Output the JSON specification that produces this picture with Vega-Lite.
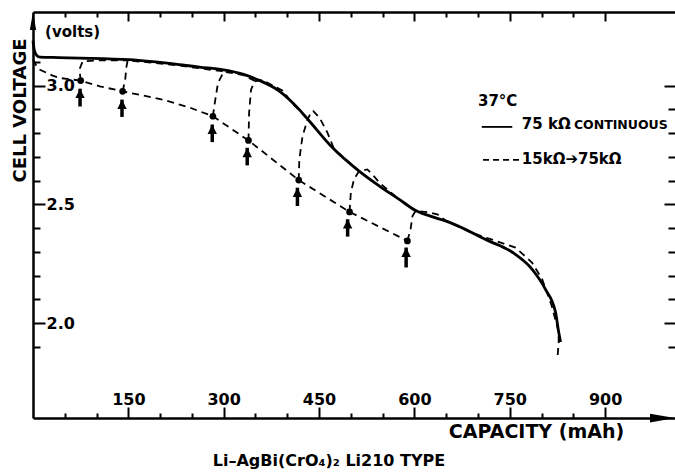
{
  "$schema": "https://vega.github.io/schema/vega-lite/v6.json",
  "width": 642,
  "height": 406,
  "autosize": {"type": "none"},
  "padding": {"left": 33, "top": 12, "right": 0, "bottom": 54},
  "background": "white",
  "config": {"view": {"stroke": null}, "font": "DejaVu Sans", "axis": {"grid": false}},
  "title": {"text": "Li–AgBi(CrO₄)₂ Li210 TYPE", "orient": "bottom", "anchor": "middle", "dx": -25, "offset": 12, "fontSize": 16, "fontWeight": "bold", "font": "DejaVu Sans", "color": "#000"},
  "resolve": {"axis": {"x": "independent", "y": "independent"}},
  "datasets": {
    "solid": [
      {"mAh": 0, "V": 3.19}, {"mAh": 2, "V": 3.15}, {"mAh": 6, "V": 3.127}, {"mAh": 11, "V": 3.12},
      {"mAh": 40, "V": 3.118}, {"mAh": 74, "V": 3.116}, {"mAh": 152, "V": 3.109}, {"mAh": 231, "V": 3.088},
      {"mAh": 262, "V": 3.078}, {"mAh": 300, "V": 3.066}, {"mAh": 330, "V": 3.048}, {"mAh": 356, "V": 3.022},
      {"mAh": 388, "V": 2.976}, {"mAh": 419, "V": 2.899}, {"mAh": 435, "V": 2.85}, {"mAh": 471, "V": 2.739},
      {"mAh": 513, "V": 2.64}, {"mAh": 545, "V": 2.577}, {"mAh": 576, "V": 2.521}, {"mAh": 602, "V": 2.474},
      {"mAh": 625, "V": 2.45}, {"mAh": 649, "V": 2.43}, {"mAh": 717, "V": 2.346}, {"mAh": 754, "V": 2.298}, {"mAh": 785, "V": 2.227},
      {"mAh": 806, "V": 2.143}, {"mAh": 822, "V": 2.046}, {"mAh": 827, "V": 1.962}, {"mAh": 830, "V": 1.92}
    ],
    "dashed": [
      {"seg": "L", "i": 0, "mAh": 0, "V": 3.11}, {"seg": "L", "i": 1, "mAh": 5, "V": 3.085}, {"seg": "L", "i": 2, "mAh": 11, "V": 3.067},
      {"seg": "L", "i": 3, "mAh": 31, "V": 3.042}, {"seg": "L", "i": 4, "mAh": 42, "V": 3.032}, {"seg": "L", "i": 5, "mAh": 75, "V": 3.021},
      {"seg": "L", "i": 6, "mAh": 105, "V": 2.997}, {"seg": "L", "i": 7, "mAh": 141, "V": 2.976}, {"seg": "L", "i": 8, "mAh": 204, "V": 2.941},
      {"seg": "L", "i": 9, "mAh": 246, "V": 2.908}, {"seg": "L", "i": 10, "mAh": 283, "V": 2.871}, {"seg": "L", "i": 11, "mAh": 339, "V": 2.769},
      {"seg": "L", "i": 12, "mAh": 377, "V": 2.689}, {"seg": "L", "i": 13, "mAh": 418, "V": 2.602}, {"seg": "L", "i": 14, "mAh": 498, "V": 2.468},
      {"seg": "L", "i": 15, "mAh": 589, "V": 2.346},
      {"seg": "B1", "i": 0, "mAh": 75, "V": 3.021}, {"seg": "B1", "i": 1, "mAh": 74, "V": 3.046}, {"seg": "B1", "i": 2, "mAh": 74, "V": 3.074},
      {"seg": "B1", "i": 3, "mAh": 78, "V": 3.102}, {"seg": "B1", "i": 4, "mAh": 99, "V": 3.106}, {"seg": "B1", "i": 5, "mAh": 149, "V": 3.106},
      {"seg": "B2", "i": 0, "mAh": 141, "V": 2.976}, {"seg": "B2", "i": 1, "mAh": 145, "V": 3.024}, {"seg": "B2", "i": 2, "mAh": 147, "V": 3.08},
      {"seg": "B2", "i": 3, "mAh": 149, "V": 3.106}, {"seg": "B2", "i": 4, "mAh": 178, "V": 3.099}, {"seg": "B2", "i": 5, "mAh": 231, "V": 3.084},
      {"seg": "B2", "i": 6, "mAh": 290, "V": 3.063}, {"seg": "B2", "i": 7, "mAh": 302, "V": 3.06},
      {"seg": "B3", "i": 0, "mAh": 283, "V": 2.871}, {"seg": "B3", "i": 1, "mAh": 286, "V": 2.927}, {"seg": "B3", "i": 2, "mAh": 291, "V": 3.011},
      {"seg": "B3", "i": 3, "mAh": 299, "V": 3.053}, {"seg": "B3", "i": 4, "mAh": 302, "V": 3.058}, {"seg": "B3", "i": 5, "mAh": 330, "V": 3.045},
      {"seg": "B3", "i": 6, "mAh": 349, "V": 3.02},
      {"seg": "B4", "i": 0, "mAh": 339, "V": 2.769}, {"seg": "B4", "i": 1, "mAh": 340, "V": 2.887}, {"seg": "B4", "i": 2, "mAh": 343, "V": 2.983},
      {"seg": "B4", "i": 3, "mAh": 349, "V": 3.018}, {"seg": "B4", "i": 4, "mAh": 360, "V": 3.024}, {"seg": "B4", "i": 5, "mAh": 393, "V": 2.979},
      {"seg": "B4", "i": 6, "mAh": 408, "V": 2.924}, {"seg": "B4", "i": 7, "mAh": 418, "V": 2.9}, {"seg": "B4", "i": 8, "mAh": 432, "V": 2.857},
      {"seg": "B5", "i": 0, "mAh": 418, "V": 2.602}, {"seg": "B5", "i": 1, "mAh": 419, "V": 2.689}, {"seg": "B5", "i": 2, "mAh": 424, "V": 2.787},
      {"seg": "B5", "i": 3, "mAh": 432, "V": 2.857}, {"seg": "B5", "i": 4, "mAh": 438, "V": 2.892}, {"seg": "B5", "i": 5, "mAh": 441, "V": 2.892},
      {"seg": "B5", "i": 6, "mAh": 451, "V": 2.864}, {"seg": "B5", "i": 7, "mAh": 463, "V": 2.803}, {"seg": "B5", "i": 8, "mAh": 474, "V": 2.731},
      {"seg": "B5", "i": 9, "mAh": 513, "V": 2.64},
      {"seg": "B6", "i": 0, "mAh": 498, "V": 2.468}, {"seg": "B6", "i": 1, "mAh": 500, "V": 2.549}, {"seg": "B6", "i": 2, "mAh": 505, "V": 2.605},
      {"seg": "B6", "i": 3, "mAh": 513, "V": 2.64}, {"seg": "B6", "i": 4, "mAh": 526, "V": 2.647}, {"seg": "B6", "i": 5, "mAh": 534, "V": 2.626},
      {"seg": "B6", "i": 6, "mAh": 545, "V": 2.591}, {"seg": "B6", "i": 7, "mAh": 576, "V": 2.521}, {"seg": "B6", "i": 8, "mAh": 602, "V": 2.472},
      {"seg": "B7", "i": 0, "mAh": 589, "V": 2.346}, {"seg": "B7", "i": 1, "mAh": 594, "V": 2.395}, {"seg": "B7", "i": 2, "mAh": 597, "V": 2.451},
      {"seg": "B7", "i": 3, "mAh": 602, "V": 2.472}, {"seg": "B7", "i": 4, "mAh": 623, "V": 2.466}, {"seg": "B7", "i": 5, "mAh": 636, "V": 2.458},
      {"seg": "B7", "i": 6, "mAh": 649, "V": 2.432}, {"seg": "B7", "i": 7, "mAh": 690, "V": 2.38}, {"seg": "B7", "i": 8, "mAh": 728, "V": 2.346},
      {"seg": "B7", "i": 9, "mAh": 759, "V": 2.318}, {"seg": "B7", "i": 10, "mAh": 785, "V": 2.255}, {"seg": "B7", "i": 11, "mAh": 801, "V": 2.185},
      {"seg": "B7", "i": 12, "mAh": 816, "V": 2.073}, {"seg": "B7", "i": 13, "mAh": 827, "V": 1.962}, {"seg": "B7", "i": 14, "mAh": 827, "V": 1.92},
      {"seg": "B7", "i": 15, "mAh": 825, "V": 1.849}
    ],
    "dots": [
      {"mAh": 75, "V": 3.021}, {"mAh": 141, "V": 2.976}, {"mAh": 283, "V": 2.871}, {"mAh": 339, "V": 2.769},
      {"mAh": 418, "V": 2.602}, {"mAh": 498, "V": 2.468}, {"mAh": 589, "V": 2.346}
    ],
    "arrows": [
      {"mAh": 74, "tip": 2.987, "tail": 2.912}, {"mAh": 140, "tip": 2.941, "tail": 2.868},
      {"mAh": 282, "tip": 2.836, "tail": 2.762}, {"mAh": 337, "tip": 2.738, "tail": 2.664},
      {"mAh": 416, "tip": 2.57, "tail": 2.493}, {"mAh": 495, "tip": 2.437, "tail": 2.364},
      {"mAh": 587, "tip": 2.318, "tail": 2.234}
    ],
    "notes": [
      {"kind": "unit", "t": "(volts)", "mAh": 19, "V": 3.226},
      {"kind": "temp", "t": "37°C", "mAh": 700, "V": 2.935},
      {"kind": "big", "t": "75 kΩ", "mAh": 769, "V": 2.817},
      {"kind": "small", "t": "CONTINUOUS", "mAh": 851, "V": 2.817},
      {"kind": "big2", "t": "15kΩ➔75kΩ", "mAh": 769, "V": 2.67}
    ],
    "samples": [
      {"kind": "solid", "x1": 706, "x2": 754, "V": 2.826},
      {"kind": "dashed", "x1": 708, "x2": 765, "V": 2.687}
    ],
    "axisHeads": [
      {"dir": "up", "mAh": 0, "V": 3.31},
      {"dir": "right", "mAh": 1010, "V": 1.6}
    ]
  },
  "layer": [
    {
      "data": {"name": "solid"},
      "mark": {"type": "line", "color": "#000", "strokeWidth": 2.8, "interpolate": "monotone"},
      "encoding": {
        "x": {"field": "mAh", "type": "quantitative", "scale": {"domain": [0, 1010], "nice": false, "zero": false},
          "axis": {"orient": "bottom", "values": [150, 300, 450, 600, 750, 900],
            "domainColor": "#000", "domainWidth": 2.5, "ticks": false, "labels": false,
            "title": "CAPACITY (mAh)", "titleX": 503, "titleY": 13, "titleAlign": "center", "titleBaseline": "middle",
            "titleFont": "DejaVu Sans", "titleFontSize": 19, "titleFontWeight": "bold", "titleColor": "#000"}},
        "y": {"field": "V", "type": "quantitative", "scale": {"domain": [1.6, 3.31], "nice": false, "zero": false},
          "axis": {"orient": "left", "values": [2, 2.5, 3],
            "domainColor": "#000", "domainWidth": 2.5, "ticks": false, "labels": false,
            "title": "CELL VOLTAGE", "titleAngle": 270, "titleX": -13, "titleY": 170, "titleAlign": "left", "titleBaseline": "middle",
            "titleFont": "DejaVu Sans", "titleFontSize": 18, "titleFontWeight": "bold", "titleColor": "#000"}}
      }
    },
    {
      "data": {"name": "dashed"},
      "mark": {"type": "line", "color": "#000", "strokeWidth": 1.8, "strokeDash": [7, 5]},
      "encoding": {
        "x": {"field": "mAh", "type": "quantitative", "scale": {"domain": [0, 1010], "nice": false, "zero": false},
          "axis": {"orient": "top", "values": [150, 300],
            "domainColor": "#000", "domainWidth": 2.5, "ticks": false, "labels": false, "title": null}},
        "y": {"field": "V", "type": "quantitative", "scale": {"domain": [1.6, 3.31], "nice": false, "zero": false},
          "axis": {"orient": "right", "values": [1.9, 2, 2.1, 2.2, 2.3, 2.4, 2.5, 2.6, 2.7, 2.8, 2.9, 3],
            "domain": false, "ticks": true, "tickColor": "#000", "tickWidth": 2,
            "tickSize": {"condition": {"test": "abs(datum.value*2 - round(datum.value*2)) < 0.001", "value": -11}, "value": -7},
            "labels": false, "title": null}},
        "detail": {"field": "seg"},
        "order": {"field": "i", "type": "quantitative"}
      }
    },
    {
      "data": {"name": "dots"},
      "mark": {"type": "point", "filled": true, "color": "#000", "opacity": 1, "size": 45},
      "encoding": {
        "x": {"field": "mAh", "type": "quantitative", "scale": {"domain": [0, 1010]},
          "axis": {"orient": "bottom", "values": [150, 300, 450, 600, 750, 900], "offset": -11,
            "domain": false, "ticks": true, "tickColor": "#000", "tickWidth": 2, "tickSize": 11,
            "labelPadding": -27, "labelFont": "DejaVu Sans", "labelFontWeight": "bold", "labelFontSize": 16, "labelColor": "#000",
            "labelFlush": false, "labelOverlap": false, "title": null}},
        "y": {"field": "V", "type": "quantitative", "scale": {"domain": [1.6, 3.31]},
          "axis": {"orient": "left", "values": [2, 2.5, 3], "offset": -12,
            "domain": false, "ticks": true, "tickColor": "#000", "tickWidth": 2, "tickSize": 12,
            "labelExpr": "format(datum.value, '.1f')", "labelAlign": "left", "labelPadding": -13,
            "labelFont": "DejaVu Sans", "labelFontWeight": "bold", "labelFontSize": 16, "labelColor": "#000",
            "labelFlush": false, "labelOverlap": false, "title": null}}
      }
    },
    {
      "data": {"name": "arrows"},
      "mark": {"type": "rule", "color": "#000", "strokeWidth": 3.5},
      "encoding": {
        "x": {"field": "mAh", "type": "quantitative", "scale": {"domain": [0, 1010]},
          "axis": {"orient": "bottom", "values": [50, 100, 200, 250, 350, 400, 500, 550, 650, 700, 800, 850],
            "domain": false, "ticks": true, "tickColor": "#000", "tickWidth": 2, "tickSize": -5, "labels": false, "title": null}},
        "y": {"field": "tail", "type": "quantitative", "scale": {"domain": [1.6, 3.31]},
          "axis": {"orient": "left", "values": [1.9, 2.1, 2.2, 2.3, 2.4, 2.6, 2.7, 2.8, 2.9, 3.1],
            "domain": false, "ticks": true, "tickColor": "#000", "tickWidth": 2, "tickSize": -7, "labels": false, "title": null}},
        "y2": {"field": "tip"}
      }
    },
    {
      "data": {"name": "arrows"},
      "mark": {"type": "point", "filled": true, "color": "#000", "opacity": 1, "size": 121, "shape": "M0,0L0.85,1.7L-0.85,1.7Z"},
      "encoding": {
        "x": {"field": "mAh", "type": "quantitative", "scale": {"domain": [0, 1010]},
          "axis": {"orient": "top", "values": [150, 300, 450, 600, 750, 900], "offset": -9,
            "domain": false, "ticks": true, "tickColor": "#000", "tickWidth": 2, "tickSize": 9, "labels": false, "title": null}},
        "y": {"field": "tip", "type": "quantitative", "scale": {"domain": [1.6, 3.31]}, "axis": null}
      }
    },
    {
      "data": {"name": "axisHeads"},
      "transform": [{"filter": "datum.dir === 'up'"}],
      "mark": {"type": "point", "filled": true, "color": "#000", "opacity": 1, "size": 324, "shape": "M0,0L0.35,2L-0.35,2Z"},
      "encoding": {
        "x": {"field": "mAh", "type": "quantitative", "scale": {"domain": [0, 1010]},
          "axis": {"orient": "top", "values": [50, 100, 200, 250, 350, 400, 500, 550, 650, 700, 800, 850],
            "domain": false, "ticks": true, "tickColor": "#000", "tickWidth": 2, "tickSize": -5, "labels": false, "title": null}},
        "y": {"field": "V", "type": "quantitative", "scale": {"domain": [1.6, 3.31]}, "axis": null}
      }
    },
    {
      "data": {"name": "axisHeads"},
      "transform": [{"filter": "datum.dir === 'right'"}],
      "mark": {"type": "point", "filled": true, "color": "#000", "opacity": 1, "size": 625, "shape": "M0,0L-2,0.35L-2,-0.35Z"},
      "encoding": {
        "x": {"field": "mAh", "type": "quantitative", "scale": {"domain": [0, 1010]}, "axis": null},
        "y": {"field": "V", "type": "quantitative", "scale": {"domain": [1.6, 3.31]}, "axis": null}
      }
    },
    {
      "data": {"name": "samples"},
      "transform": [{"filter": "datum.kind === 'solid'"}],
      "mark": {"type": "rule", "color": "#000", "strokeWidth": 1.8},
      "encoding": {
        "x": {"field": "x1", "type": "quantitative", "scale": {"domain": [0, 1010]}, "axis": null},
        "x2": {"field": "x2"},
        "y": {"field": "V", "type": "quantitative", "scale": {"domain": [1.6, 3.31]}, "axis": null}
      }
    },
    {
      "data": {"name": "samples"},
      "transform": [{"filter": "datum.kind === 'dashed'"}],
      "mark": {"type": "rule", "color": "#000", "strokeWidth": 1.8, "strokeDash": [6, 4]},
      "encoding": {
        "x": {"field": "x1", "type": "quantitative", "scale": {"domain": [0, 1010]}, "axis": null},
        "x2": {"field": "x2"},
        "y": {"field": "V", "type": "quantitative", "scale": {"domain": [1.6, 3.31]}, "axis": null}
      }
    },
    {
      "data": {"name": "notes"},
      "transform": [{"filter": "datum.kind === 'unit'"}],
      "mark": {"type": "text", "align": "left", "baseline": "middle", "fontSize": 15, "fontWeight": "bold", "font": "DejaVu Sans", "color": "#000"},
      "encoding": {
        "x": {"field": "mAh", "type": "quantitative", "scale": {"domain": [0, 1010]}, "axis": null},
        "y": {"field": "V", "type": "quantitative", "scale": {"domain": [1.6, 3.31]}, "axis": null},
        "text": {"field": "t"}
      }
    },
    {
      "data": {"name": "notes"},
      "transform": [{"filter": "datum.kind === 'temp'"}],
      "mark": {"type": "text", "align": "left", "baseline": "middle", "fontSize": 15, "fontWeight": "bold", "font": "DejaVu Sans", "color": "#000"},
      "encoding": {
        "x": {"field": "mAh", "type": "quantitative", "scale": {"domain": [0, 1010]}, "axis": null},
        "y": {"field": "V", "type": "quantitative", "scale": {"domain": [1.6, 3.31]}, "axis": null},
        "text": {"field": "t"}
      }
    },
    {
      "data": {"name": "notes"},
      "transform": [{"filter": "datum.kind === 'big' || datum.kind === 'big2'"}],
      "mark": {"type": "text", "align": "left", "baseline": "alphabetic", "fontSize": 15, "fontWeight": "bold", "font": "DejaVu Sans", "color": "#000"},
      "encoding": {
        "x": {"field": "mAh", "type": "quantitative", "scale": {"domain": [0, 1010]}, "axis": null},
        "y": {"field": "V", "type": "quantitative", "scale": {"domain": [1.6, 3.31]}, "axis": null},
        "text": {"field": "t"}
      }
    },
    {
      "data": {"name": "notes"},
      "transform": [{"filter": "datum.kind === 'small'"}],
      "mark": {"type": "text", "align": "left", "baseline": "alphabetic", "fontSize": 12.5, "fontWeight": "bold", "font": "DejaVu Sans", "color": "#000"},
      "encoding": {
        "x": {"field": "mAh", "type": "quantitative", "scale": {"domain": [0, 1010]}, "axis": null},
        "y": {"field": "V", "type": "quantitative", "scale": {"domain": [1.6, 3.31]}, "axis": null},
        "text": {"field": "t"}
      }
    }
  ]
}
